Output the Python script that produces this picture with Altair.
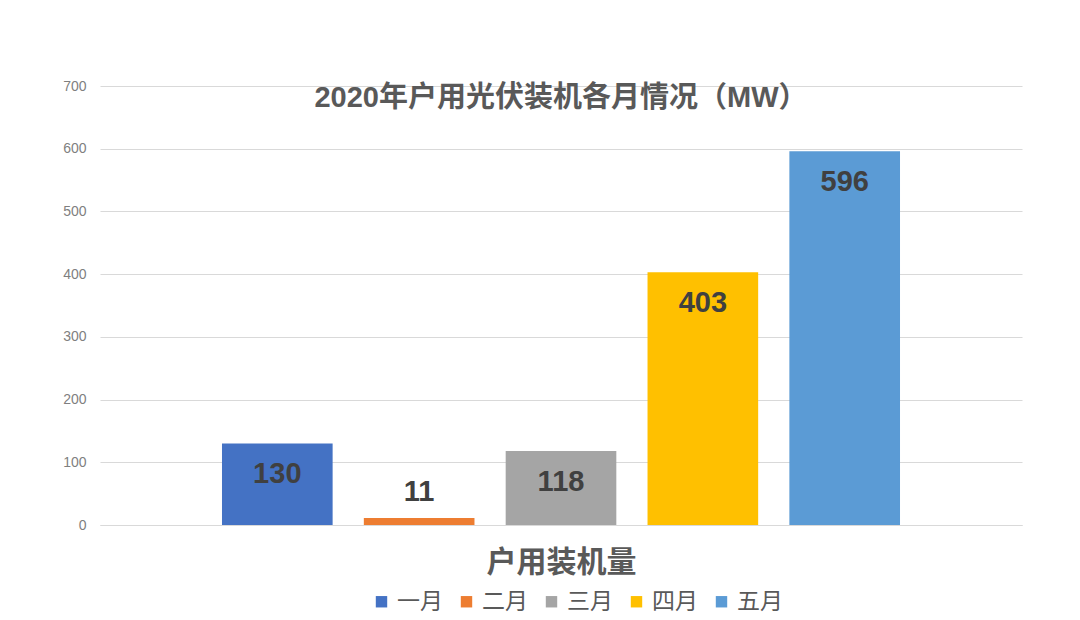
import altair as alt
import pandas as pd

months = ["一月", "二月", "三月", "四月", "五月"]
values = [130, 11, 118, 403, 596]
colors = ["#4472C4", "#ED7D31", "#A5A5A5", "#FFC000", "#5B9BD5"]
category = "户用装机量"
title_text = "2020年户用光伏装机各月情况（MW）"

df = pd.DataFrame({"month": months, "value": values, "cat": [category] * len(months)})

FONT = "Liberation Sans, Noto Sans CJK SC"

x = alt.X("month:N", sort=months,
          scale=alt.Scale(paddingInner=0.22, paddingOuter=0.86),
          axis=alt.Axis(labels=False, ticks=False, domain=True, domainColor="#d9d9d9",
                        grid=False,
                        title=category, titleFontSize=30, titleFont=FONT,
                        titleFontWeight="bold", titleColor="#595959", titlePadding=22))
y = alt.Y("value:Q", scale=alt.Scale(domain=[0, 700]),
          axis=alt.Axis(values=[0, 100, 200, 300, 400, 500, 600, 700], title=None,
                        domain=False, ticks=False, labelPadding=14, labelFontSize=14,
                        labelColor="#7f7f7f", labelFont=FONT,
                        gridColor="#d9d9d9", gridWidth=1))

bars = alt.Chart(df).mark_bar().encode(
    x=x, y=y,
    color=alt.Color("month:N", sort=months,
                    scale=alt.Scale(domain=months, range=colors),
                    legend=alt.Legend(title=None, orient="none", direction="horizontal",
                                      legendX=270, legendY=504, symbolType="square",
                                      symbolSize=130, symbolStrokeWidth=0,
                                      labelFontSize=23, labelFont=FONT, labelColor="#595959",
                                      columnPadding=12, labelOffset=4))
)

labels_in = alt.Chart(df).transform_filter("datum.value >= 50").mark_text(
    dy=31, fontSize=29, fontWeight="bold", font=FONT, color="#404040"
).encode(x=alt.X("month:N", sort=months), y="value:Q", text="value:Q")

labels_out = alt.Chart(df).transform_filter("datum.value < 50").mark_text(
    dy=-26, fontSize=29, fontWeight="bold", font=FONT, color="#404040"
).encode(x=alt.X("month:N", sort=months), y="value:Q", text="value:Q")

chart = alt.layer(bars, labels_in, labels_out).properties(
    width=922, height=439,
    title=alt.TitleParams(title_text, fontSize=29, font=FONT, fontWeight="bold",
                          color="#595959", offset=-34, anchor="middle"),
    autosize=alt.AutoSizeParams(type="none"),
    padding={"left": 92, "top": 78, "right": 50, "bottom": 95},
).configure(background="white").configure_view(strokeWidth=0, stroke="transparent")

chart.save("out.html", embed_options={"renderer": "svg", "actions": False})
